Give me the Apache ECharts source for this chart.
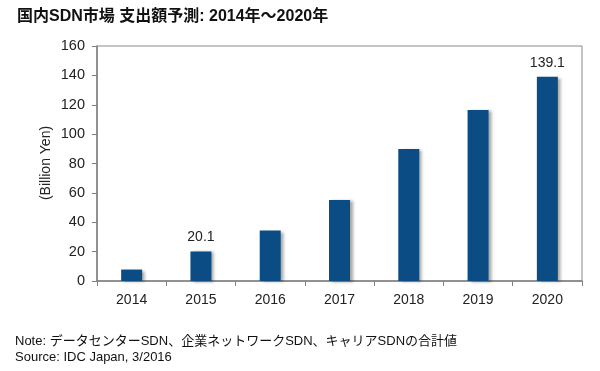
<!DOCTYPE html>
<html><head><meta charset="utf-8">
<script src="https://cdn.jsdelivr.net/npm/echarts@6/dist/echarts.min.js"></script>
<style>html,body{margin:0;padding:0;background:#fff}#c{width:600px;height:371px}</style>
</head><body><div id="c"></div>
<script>
const categories = ['2014','2015','2016','2017','2018','2019','2020'];
const values = [7.8, 20.1, 34.3, 55.1, 89.9, 116.4, 139.1];
const labelledYears = ['2015','2020'];
const yTicks = [0,20,40,60,80,100,120,140,160];
const titleText = '国内SDN市場 支出額予測: 2014年～2020年';
const yName = '(Billion Yen)';
const noteText = 'Note: データセンターSDN、企業ネットワークSDN、キャリアSDNの合計値';
const sourceText = 'Source: IDC Japan, 3/2016';

const font = '"Liberation Sans", Arial, "Noto Sans CJK JP", sans-serif';
const chart = echarts.init(document.getElementById('c'));
chart.setOption({
  animation: false,
  textStyle: {fontFamily: font},
  title: {text: titleText, left: 12, top: 4,
    textStyle: {fontSize: 16, fontWeight: 'bold', color: '#111', fontFamily: font}},
  graphic: [
    {type: 'text', left: 15, top: 335, style: {text: noteText, fontSize: 13, fill: '#111', fontFamily: font}},
    {type: 'text', left: 15, top: 351, style: {text: sourceText, fontSize: 13, fill: '#111', fontFamily: font}},
    {type: 'text', x: 46, y: 163, rotation: Math.PI/2, style: {text: yName, fontSize: 14, fill: '#222', fontFamily: font, align: 'center', verticalAlign: 'middle'}}
  ],
  grid: {left: 97, right: 18, top: 46, bottom: 90, show: true, borderColor: '#8a8a8a', borderWidth: 1, backgroundColor: 'transparent'},
  xAxis: {type: 'category', data: categories,
    axisLine: {lineStyle: {color: '#808080', width: 1.5}},
    axisTick: {show: true, alignWithLabel: false, length: 5, lineStyle: {color: '#808080'}},
    axisLabel: {fontSize: 14, color: '#222', margin: 12, fontFamily: font}},
  yAxis: {type: 'value', min: 0, max: 160, interval: 20,
    axisLine: {show: true, lineStyle: {color: '#808080', width: 1.5}},
    axisTick: {show: true, length: 5, lineStyle: {color: '#808080'}},
    splitLine: {show: false},
    axisLabel: {fontSize: 14.5, color: '#222', margin: 12, fontFamily: font,
      formatter: v => yTicks.includes(v) ? String(v) : ''}},
  series: [{
    type: 'bar', barWidth: 21,
    data: values.map((v, i) => ({value: v,
      label: {show: labelledYears.includes(categories[i]), position: 'top', distance: 7,
        fontSize: 14, color: '#222', fontFamily: font, formatter: p => p.value.toFixed(1)}})),
    itemStyle: {color: '#0b4c85', shadowColor: 'rgba(0,0,0,0.35)', shadowOffsetX: 3, shadowOffsetY: 1, shadowBlur: 3}
  }]
});
</script></body></html>
